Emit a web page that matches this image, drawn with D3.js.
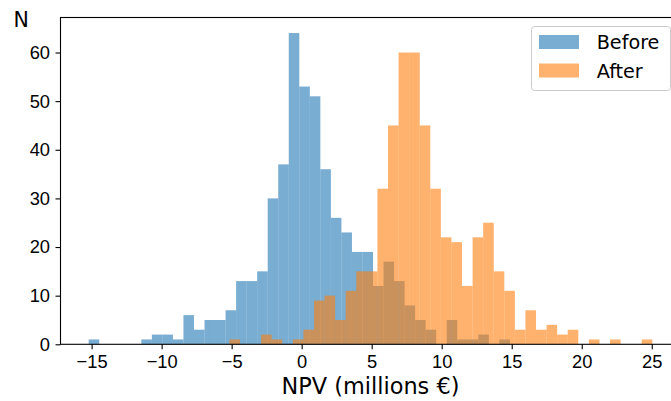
<!DOCTYPE html>
<html>
<head>
<meta charset="utf-8">
<style>
  body { margin: 0; background: #fff; }
  svg { display: block; font-family: "DejaVu Sans", sans-serif; overflow: hidden; }
  .axis path, .axis line { stroke: #000; stroke-width: 1.1px; }
  .axis text { font-size: 18.3px; fill: #000; }
</style>
</head>
<body>
<svg width="671" height="401"></svg>

<script src="https://d3js.org/d3.v7.min.js"></script>
<script>
  // histogram counts, 40 bins each
  var beforeRange = [-15.21, 14.87];
  var beforeCounts = [1, 0, 0, 0, 0, 1, 2, 2, 1, 6,
                      3, 5, 5, 7, 13, 13, 15, 30, 37, 64,
                      53, 51, 36, 26, 23, 19, 19, 12, 17, 13,
                      8, 5, 3, 0, 5, 1, 1, 2, 0, 1];
  var afterRange = [-5.16, 25.04];
  var afterCounts = [1, 0, 0, 2, 1, 0, 1, 3, 9, 10,
                     5, 11, 15, 15, 32, 45, 60, 60, 45, 32,
                     22, 21, 12, 22, 25, 15, 11, 3, 7, 3,
                     4, 2, 3, 0, 1, 0, 1, 0, 0, 1];
  var xTicks = [-15, -10, -5, 0, 5, 10, 15, 20, 25];
  var yTicks = [0, 10, 20, 30, 40, 50, 60];
  var seriesNames = ["Before", "After"];
  var colors = ["#1f77b4", "#ff7f0e"];

  var svg = d3.select("svg");
  var mLeft = 60.5, mTop = 17.5, mBottom = 344.3;

  // matplotlib style 5% margins on x
  var xmin = Math.min(beforeRange[0], afterRange[0]);
  var xmax = Math.max(beforeRange[1], afterRange[1]);
  var pad = 0.05 * (xmax - xmin);
  var x = d3.scaleLinear().domain([xmin - pad, xmax + pad]).range([mLeft, mLeft + 620]);
  var y = d3.scaleLinear().domain([0, d3.max(beforeCounts.concat(afterCounts)) * 1.05]).range([mBottom, mTop]);

  function bins(range, counts) {
    var w = (range[1] - range[0]) / counts.length;
    return counts.map(function(c, i) {
      return { x0: range[0] + i * w, x1: range[0] + (i + 1) * w, n: c };
    });
  }

  [[beforeRange, beforeCounts], [afterRange, afterCounts]].forEach(function(s, k) {
    svg.append("g")
      .selectAll("rect")
      .data(bins(s[0], s[1]).filter(function(d) { return d.n > 0; }))
      .enter().append("rect")
        .attr("x", function(d) { return x(d.x0); })
        .attr("width", function(d) { return x(d.x1) - x(d.x0); })
        .attr("y", function(d) { return y(d.n); })
        .attr("height", function(d) { return y(0) - y(d.n); })
        .attr("fill", colors[k])
        .attr("fill-opacity", 0.6);
  });

  // frame
  svg.append("rect")
    .attr("x", x.range()[0]).attr("y", mTop)
    .attr("width", x.range()[1] - x.range()[0]).attr("height", mBottom - mTop)
    .attr("fill", "none").attr("stroke", "#000").attr("stroke-width", 1.1);

  var xAxis = svg.append("g")
    .attr("class", "axis")
    .attr("transform", "translate(0," + mBottom + ")")
    .call(d3.axisBottom(x).tickValues(xTicks).tickSize(5).tickPadding(5.7));
  xAxis.select(".domain").remove();

  var yAxis = svg.append("g")
    .attr("class", "axis")
    .attr("transform", "translate(" + mLeft + ",0)")
    .call(d3.axisLeft(y).tickValues(yTicks).tickSize(5).tickPadding(5.5));
  yAxis.select(".domain").remove();

  svg.append("text")
    .attr("x", x((xmin - pad + xmax + pad) / 2))
    .attr("y", 394)
    .attr("text-anchor", "middle")
    .style("font-size", "22.4px")
    .text("NPV (millions €)");

  svg.append("text")
    .attr("x", 13.5)
    .attr("y", 27)
    .style("font-size", "20.5px")
    .text("N");

  // legend
  var legend = svg.append("g").attr("transform", "translate(531,26)");
  legend.append("rect")
    .attr("x", 0.5).attr("y", 0.5)
    .attr("width", 139).attr("height", 64)
    .attr("rx", 3)
    .attr("fill", "#fff").attr("fill-opacity", 0.8)
    .attr("stroke", "#ccc");
  seriesNames.forEach(function(name, i) {
    legend.append("rect")
      .attr("x", 8).attr("y", 9 + i * 28.5)
      .attr("width", 40).attr("height", 14)
      .attr("fill", colors[i]).attr("fill-opacity", 0.6);
    legend.append("text")
      .attr("x", 65.7).attr("y", 23.3 + i * 28.5)
      .style("font-size", "19.2px")
      .text(name);
  });
</script>
</body>
</html>
